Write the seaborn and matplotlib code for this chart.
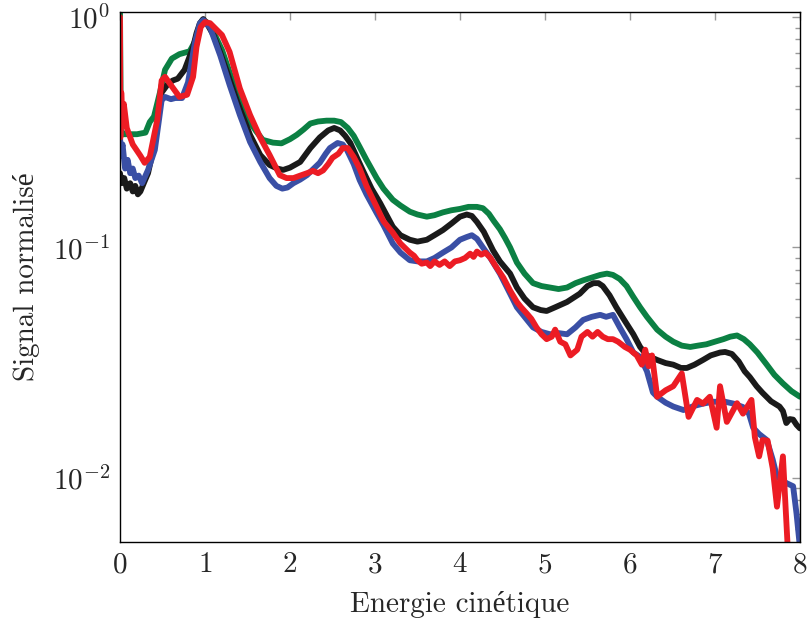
import numpy as np
import pandas as pd
import matplotlib
matplotlib.use("Agg")
import matplotlib.pyplot as plt
import matplotlib.ticker as mticker
import seaborn as sns

# values (x = kinetic energy, y = normalised signal)
green_x = [0, 0.01, 0.05, 0.1, 0.2, 0.3, 0.35, 0.4, 0.47, 0.53, 0.61, 0.7, 0.76, 0.82, 0.88,
           0.93, 0.97, 1.02, 1.1, 1.2, 1.33, 1.45, 1.53, 1.6, 1.68, 1.8, 1.9, 2.0, 2.08, 2.16,
           2.24, 2.33, 2.43, 2.52, 2.6, 2.68, 2.75, 2.82, 2.9, 3.02, 3.1, 3.21, 3.3, 3.41, 3.5,
           3.61, 3.7, 3.8, 3.9, 4.0, 4.1, 4.2, 4.27, 4.34, 4.4, 4.47, 4.53, 4.59, 4.67, 4.76,
           4.86, 4.96, 5.06, 5.16, 5.26, 5.36, 5.45, 5.55, 5.65, 5.73, 5.8, 5.88, 5.96, 6.04,
           6.12, 6.2, 6.32, 6.42, 6.51, 6.61, 6.71, 6.8, 6.9, 7.0, 7.1, 7.18, 7.26, 7.34, 7.41,
           7.5, 7.61, 7.7, 7.8, 7.9, 8.0]
green_y = [1.1, 0.32, 0.31, 0.31, 0.31, 0.315, 0.35, 0.37, 0.47, 0.59, 0.66, 0.69, 0.70, 0.71,
           0.78, 0.90, 0.97, 0.95, 0.86, 0.72, 0.52, 0.40, 0.35, 0.32, 0.293, 0.285, 0.283,
           0.295, 0.308, 0.325, 0.345, 0.352, 0.355, 0.355, 0.35, 0.33, 0.305, 0.273, 0.24,
           0.2, 0.18, 0.161, 0.152, 0.143, 0.139, 0.136, 0.138, 0.142, 0.145, 0.147, 0.15,
           0.15, 0.148, 0.14, 0.13, 0.12, 0.11, 0.1, 0.086, 0.077, 0.07, 0.068, 0.067, 0.066,
           0.067, 0.07, 0.072, 0.074, 0.076, 0.077, 0.076, 0.073, 0.068, 0.061, 0.055, 0.05,
           0.044, 0.041, 0.039, 0.0375, 0.037, 0.0375, 0.038, 0.039, 0.04, 0.041, 0.0415,
           0.040, 0.038, 0.035, 0.031, 0.028, 0.0257, 0.0238, 0.0225]

black_x = [0, 0.02, 0.05, 0.08, 0.12, 0.15, 0.18, 0.21, 0.24, 0.28, 0.33, 0.41, 0.46, 0.49,
           0.56, 0.62, 0.68, 0.76, 0.81, 0.86, 0.9, 0.94, 0.98, 1.02, 1.1, 1.18, 1.26, 1.38,
           1.53, 1.65, 1.76, 1.85, 1.92, 2.0, 2.12, 2.24, 2.35, 2.45, 2.52, 2.59, 2.65, 2.71,
           2.8, 2.86, 2.96, 3.06, 3.21, 3.3, 3.41, 3.5, 3.61, 3.7, 3.8, 3.9, 4.0, 4.08, 4.14,
           4.2, 4.28, 4.39, 4.47, 4.59, 4.67, 4.76, 4.86, 4.95, 5.02, 5.12, 5.26, 5.41, 5.5,
           5.57, 5.63, 5.68, 5.76, 5.84, 5.94, 6.04, 6.12, 6.2, 6.32, 6.42, 6.51, 6.6, 6.67,
           6.76, 6.86, 6.95, 7.06, 7.12, 7.2, 7.28, 7.35, 7.41, 7.49, 7.56, 7.66, 7.76, 7.8,
           7.84, 7.88, 7.92, 7.96, 8.0]
black_y = [0.21, 0.19, 0.2, 0.18, 0.19, 0.175, 0.185, 0.17, 0.175, 0.19, 0.21, 0.284, 0.40,
           0.47, 0.51, 0.53, 0.54, 0.59, 0.66, 0.74, 0.85, 0.94, 0.98, 0.94, 0.835, 0.70,
           0.577, 0.428, 0.308, 0.252, 0.228, 0.22, 0.217, 0.222, 0.235, 0.27, 0.30, 0.322,
           0.33, 0.322, 0.305, 0.284, 0.24, 0.215, 0.18, 0.156, 0.123, 0.113, 0.108, 0.106,
           0.108, 0.113, 0.119, 0.127, 0.136, 0.139, 0.137, 0.129, 0.117, 0.097, 0.087, 0.077,
           0.067, 0.06, 0.055, 0.0535, 0.053, 0.055, 0.058, 0.063, 0.068, 0.07, 0.07, 0.068,
           0.062, 0.055, 0.048, 0.042, 0.037, 0.034, 0.0325, 0.0315, 0.031, 0.030, 0.030,
           0.031, 0.0325, 0.034, 0.035, 0.0352, 0.0345, 0.032, 0.029, 0.0274, 0.025, 0.0234,
           0.0215, 0.0204, 0.0195, 0.0173, 0.018, 0.0179, 0.017, 0.0164]

blue_x = [0, 0.01, 0.03, 0.06, 0.09, 0.12, 0.15, 0.18, 0.22, 0.26, 0.33, 0.41, 0.46, 0.49,
          0.53, 0.6, 0.65, 0.73, 0.8, 0.84, 0.88, 0.94, 0.98, 1.06, 1.18, 1.29, 1.41, 1.53,
          1.65, 1.76, 1.84, 1.91, 1.97, 2.04, 2.12, 2.2, 2.28, 2.35, 2.42, 2.47, 2.56, 2.62,
          2.67, 2.75, 2.82, 2.9, 3.02, 3.1, 3.21, 3.3, 3.41, 3.5, 3.61, 3.7, 3.8, 3.9, 4.0,
          4.08, 4.14, 4.2, 4.27, 4.35, 4.47, 4.59, 4.67, 4.76, 4.86, 4.96, 5.06, 5.16, 5.26,
          5.36, 5.45, 5.55, 5.65, 5.72, 5.8, 5.88, 5.96, 6.04, 6.12, 6.2, 6.27, 6.32, 6.42,
          6.51, 6.63, 6.75, 6.86, 6.98, 7.12, 7.22, 7.33, 7.4, 7.45, 7.52, 7.61, 7.68, 7.73,
          7.84, 7.92, 7.96, 8.0]
blue_y = [0.31, 0.25, 0.28, 0.22, 0.24, 0.21, 0.22, 0.2, 0.205, 0.19, 0.217, 0.265, 0.36,
          0.435, 0.45, 0.44, 0.445, 0.445, 0.52, 0.63, 0.77, 0.94, 0.97, 0.9, 0.68, 0.507,
          0.376, 0.287, 0.235, 0.2, 0.185, 0.18, 0.182, 0.19, 0.197, 0.206, 0.22, 0.233,
          0.255, 0.27, 0.284, 0.28, 0.265, 0.23, 0.196, 0.17, 0.141, 0.125, 0.104, 0.095,
          0.088, 0.087, 0.087, 0.09, 0.095, 0.1, 0.108, 0.111, 0.113, 0.109, 0.1, 0.091,
          0.077, 0.063, 0.055, 0.05, 0.045, 0.043, 0.042, 0.0425, 0.042, 0.045, 0.0485, 0.05,
          0.051, 0.05, 0.051, 0.045, 0.04, 0.035, 0.0335, 0.029, 0.0235, 0.0225, 0.0212,
          0.0204, 0.0197, 0.0205, 0.021, 0.0214, 0.0214, 0.021, 0.0203, 0.019, 0.0165,
          0.0155, 0.0146, 0.012, 0.0101, 0.0095, 0.0092, 0.007, 0.0050]

red_x = [0, 0.005, 0.015, 0.03, 0.045, 0.08, 0.15, 0.24, 0.29, 0.35, 0.44, 0.49, 0.53, 0.61,
         0.7, 0.79, 0.86, 0.9, 0.95, 1.0, 1.06, 1.2, 1.29, 1.41, 1.53, 1.65, 1.76, 1.88, 1.96,
         2.04, 2.12, 2.2, 2.27, 2.33, 2.39, 2.45, 2.5, 2.57, 2.62, 2.68, 2.75, 2.82, 2.9, 3.02,
         3.1, 3.21, 3.3, 3.41, 3.46, 3.5, 3.55, 3.61, 3.65, 3.7, 3.76, 3.82, 3.88, 3.94, 4.0,
         4.06, 4.12, 4.16, 4.2, 4.25, 4.3, 4.36, 4.42, 4.51, 4.59, 4.67, 4.72, 4.78, 4.84,
         4.9, 4.96, 5.02, 5.08, 5.12, 5.18, 5.24, 5.3, 5.38, 5.43, 5.5, 5.56, 5.62, 5.68,
         5.74, 5.8, 5.86, 5.94, 6.0, 6.08, 6.14, 6.18, 6.22, 6.26, 6.32, 6.42, 6.51, 6.61,
         6.69, 6.79, 6.86, 6.94, 7.02, 7.06, 7.14, 7.26, 7.33, 7.43, 7.47, 7.52, 7.56, 7.62,
         7.68, 7.73, 7.8, 7.87]
red_y = [1.0, 0.3, 0.47, 0.36, 0.42, 0.33, 0.28, 0.25, 0.233, 0.247, 0.36, 0.53, 0.55, 0.50,
         0.45, 0.46, 0.55, 0.74, 0.905, 0.95, 0.94, 0.835, 0.705, 0.49, 0.376, 0.30, 0.252,
         0.206, 0.2, 0.2, 0.205, 0.21, 0.215, 0.21, 0.216, 0.23, 0.245, 0.255, 0.27, 0.27,
         0.247, 0.22, 0.185, 0.15, 0.13, 0.116, 0.104, 0.095, 0.092, 0.088, 0.085, 0.086,
         0.083, 0.087, 0.084, 0.087, 0.083, 0.087, 0.088, 0.09, 0.094, 0.091, 0.096, 0.093,
         0.095, 0.09, 0.083, 0.074, 0.065, 0.058, 0.055, 0.052, 0.049, 0.045, 0.042, 0.04,
         0.041, 0.044, 0.039, 0.038, 0.034, 0.036, 0.041, 0.043, 0.041, 0.043, 0.041, 0.04,
         0.04, 0.039, 0.037, 0.036, 0.034, 0.031, 0.036, 0.0305, 0.034, 0.0225, 0.024, 0.025,
         0.0284, 0.0184, 0.0218, 0.021, 0.0225, 0.0165, 0.025, 0.0175, 0.0211, 0.019, 0.0218,
         0.015, 0.0124, 0.0146, 0.0145, 0.011, 0.0075, 0.0124, 0.004]

series = [
    (green_x, green_y, '#0b8043'),
    (black_x, black_y, '#1a1a1a'),
    (blue_x, blue_y, '#3a4fa5'),
    (red_x, red_y, '#ec1c24'),
]

sns.set_style('white')
plt.rcParams['font.family'] = ['cmr10', 'Liberation Serif']
plt.rcParams['mathtext.fontset'] = 'cm'
plt.rcParams['axes.formatter.use_mathtext'] = True

fig = plt.figure(figsize=(8.08, 6.2), dpi=100)
ax = fig.add_axes([0.1485, 0.1258, 0.8415, 0.8548])

for xs, ys, col in series:
    df = pd.DataFrame({'x': xs, 'y': ys})
    sns.lineplot(data=df, x='x', y='y', color=col, linewidth=4.2, sort=False,
                 estimator=None, ax=ax)

ax.set_yscale('log')
ax.set_xlim(0, 8)
ax.set_ylim(0.00527, 1.051)
ax.set_xticks(range(0, 9))
ax.yaxis.set_major_locator(mticker.LogLocator(base=10, numticks=10))
ax.yaxis.set_minor_locator(mticker.LogLocator(base=10, subs=np.arange(2, 10), numticks=20))
ax.yaxis.set_minor_formatter(mticker.NullFormatter())

ax.tick_params(which='both', direction='in', top=True, right=True, color='#999999',
               labelsize=21, width=1)
ax.tick_params(which='major', length=6, pad=7)
ax.tick_params(which='minor', length=3.5)
for sp in ax.spines.values():
    sp.set_color('black')
    sp.set_linewidth(1)

ax.set_xlabel('Energie cinétique', fontsize=21, labelpad=9)
ax.set_ylabel('Signal normalisé', fontsize=21, labelpad=9)

fig.savefig('out.png', dpi=100)
